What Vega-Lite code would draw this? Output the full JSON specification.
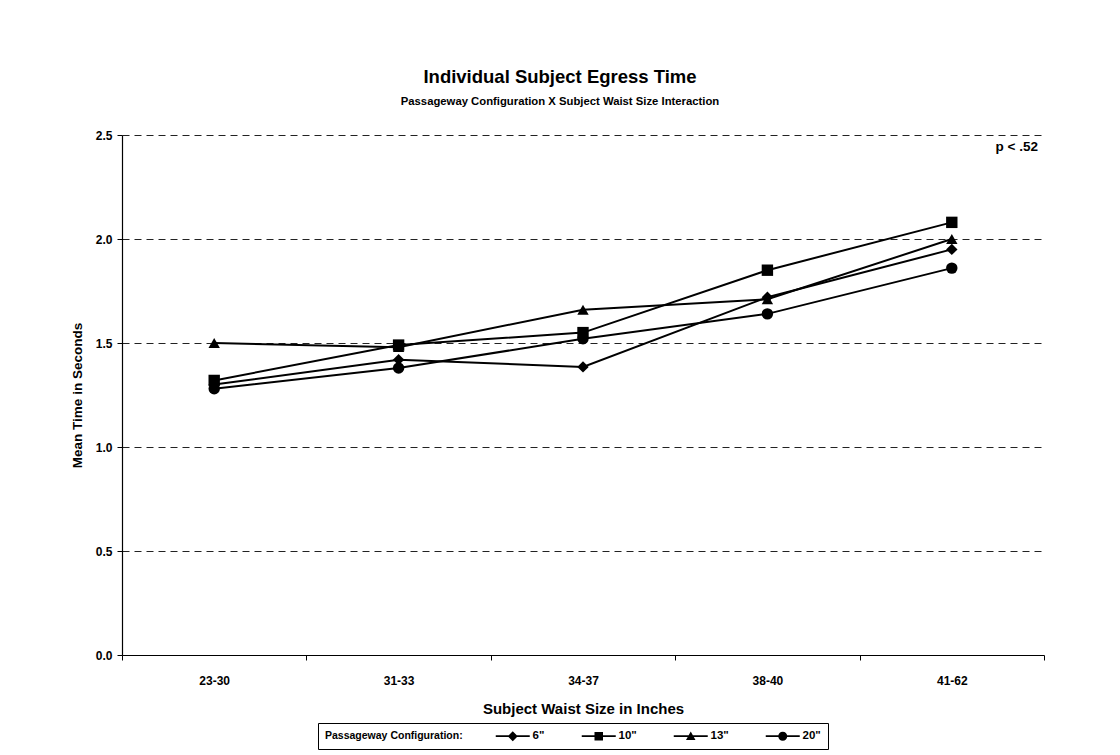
{
  "$schema": "https://vega.github.io/schema/vega-lite/v6.json",
  "autosize": "none",
  "width": 922,
  "height": 520,
  "padding": {"left": 122, "top": 135, "right": 76, "bottom": 100},
  "background": "white",
  "config": {
    "font": "Liberation Sans",
    "view": {"stroke": null},
    "axis": {"labelFont": "Liberation Sans", "titleFont": "Liberation Sans", "labelColor": "black", "titleColor": "black", "domainColor": "black", "tickColor": "black"}
  },
  "title": {
    "text": "Individual Subject Egress Time",
    "subtitle": "Passageway Configuration X Subject Waist Size Interaction",
    "anchor": "middle",
    "frame": "group",
    "dx": -23,
    "offset": 22,
    "font": "Liberation Sans",
    "fontSize": 18.5,
    "fontWeight": "bold",
    "color": "black",
    "subtitleFont": "Liberation Sans",
    "subtitleFontSize": 11.3,
    "subtitleFontWeight": "bold",
    "subtitleColor": "black",
    "subtitlePadding": 9
  },
  "data": {
    "values": [
      {"waist": "23-30", "config": "6\"", "time": 1.30},
      {"waist": "31-33", "config": "6\"", "time": 1.42},
      {"waist": "34-37", "config": "6\"", "time": 1.385},
      {"waist": "38-40", "config": "6\"", "time": 1.72},
      {"waist": "41-62", "config": "6\"", "time": 1.95},
      {"waist": "23-30", "config": "10\"", "time": 1.32},
      {"waist": "31-33", "config": "10\"", "time": 1.49},
      {"waist": "34-37", "config": "10\"", "time": 1.55},
      {"waist": "38-40", "config": "10\"", "time": 1.85},
      {"waist": "41-62", "config": "10\"", "time": 2.08},
      {"waist": "23-30", "config": "13\"", "time": 1.50},
      {"waist": "31-33", "config": "13\"", "time": 1.48},
      {"waist": "34-37", "config": "13\"", "time": 1.66},
      {"waist": "38-40", "config": "13\"", "time": 1.71},
      {"waist": "41-62", "config": "13\"", "time": 2.00},
      {"waist": "23-30", "config": "20\"", "time": 1.28},
      {"waist": "31-33", "config": "20\"", "time": 1.38},
      {"waist": "34-37", "config": "20\"", "time": 1.52},
      {"waist": "38-40", "config": "20\"", "time": 1.64},
      {"waist": "41-62", "config": "20\"", "time": 1.86}
    ]
  },
  "encoding": {
    "x": {
      "field": "waist",
      "type": "nominal",
      "sort": ["23-30", "31-33", "34-37", "38-40", "41-62"],
      "scale": {"type": "band", "paddingInner": 0, "paddingOuter": 0},
      "axis": {
        "title": "Subject Waist Size in Inches",
        "titleFontSize": 15,
        "titleFontWeight": "bold",
        "titlePadding": 15,
        "labelAngle": 0,
        "labelFontSize": 12,
        "labelFontWeight": "bold",
        "labelPadding": 15,
        "tickBand": "extent",
        "tickSize": 5,
        "domainWidth": 1.2,
        "grid": false
      }
    },
    "y": {
      "field": "time",
      "type": "quantitative",
      "scale": {"domain": [0, 2.5], "nice": false},
      "axis": {
        "title": "Mean Time in Seconds",
        "titleFontSize": 13.5,
        "titleFontWeight": "bold",
        "titlePadding": 11,
        "values": [0, 0.5, 1, 1.5, 2, 2.5],
        "format": ".1f",
        "labelFontSize": 12,
        "labelFontWeight": "bold",
        "labelPadding": 5,
        "tickSize": 5,
        "domainWidth": 1.2,
        "grid": true,
        "gridColor": "#222222",
        "gridDash": [7, 5],
        "gridWidth": 1
      }
    }
  },
  "layer": [
    {
      "mark": {"type": "line", "color": "black", "strokeWidth": 2},
      "encoding": {"detail": {"field": "config", "type": "nominal"}}
    },
    {
      "mark": {"type": "point", "filled": true, "color": "black", "opacity": 1, "size": 130},
      "encoding": {
        "shape": {
          "field": "config",
          "type": "nominal",
          "scale": {"domain": ["6\"", "10\"", "13\"", "20\""], "range": ["diamond", "square", "triangle-up", "circle"]},
          "legend": null
        }
      }
    },
    {
      "mark": {"type": "point", "filled": true, "color": "black", "opacity": 0, "size": 100},
      "encoding": {
        "shape": {
          "field": "config",
          "type": "nominal",
          "scale": {
            "domain": ["6\"", "10\"", "13\"", "20\""],
            "range": [
              "M-3.4,-0.16L3.4,-0.16L3.4,0.16L-3.4,0.16ZM0,-1L1,0L0,1L-1,0Z",
              "M-3.4,-0.16L3.4,-0.16L3.4,0.16L-3.4,0.16ZM-0.85,-0.85L0.85,-0.85L0.85,0.85L-0.85,0.85Z",
              "M-3.4,-0.16L3.4,-0.16L3.4,0.16L-3.4,0.16ZM0,-0.95L0.95,0.75L-0.95,0.75Z",
              "M-3.4,-0.16L3.4,-0.16L3.4,0.16L-3.4,0.16ZM-0.9,0A0.9,0.9,0,1,1,0.9,0A0.9,0.9,0,1,1,-0.9,0Z"
            ]
          },
          "legend": {
            "orient": "none",
            "legendX": 196,
            "legendY": 588,
            "direction": "horizontal",
            "title": "Passageway Configuration:",
            "titleOrient": "left",
            "titleFont": "Liberation Sans",
            "titleFontSize": 10.5,
            "titleFontWeight": "bold",
            "titleColor": "black",
            "titlePadding": 30,
            "titleBaseline": "middle",
            "labelFont": "Liberation Sans",
            "labelFontSize": 11.5,
            "labelFontWeight": "bold",
            "labelColor": "black",
            "labelOffset": 14,
            "symbolOffset": 14,
            "symbolSize": 100,
            "symbolOpacity": 1,
            "symbolFillColor": "black",
            "symbolStrokeColor": "black",
            "symbolStrokeWidth": 0,
            "columnPadding": 34,
            "strokeColor": "black",
            "padding": 7,
            "fillColor": "white",
            "encode": {
              "symbols": {
                "update": {
                  "fill": {"value": "black"},
                  "opacity": {"value": 1},
                  "fillOpacity": {"value": 1}
                }
              }
            }
          }
        }
      }
    },
    {
      "data": {"values": [{"label": "p < .52", "waist": "41-62", "time": 2.44}]},
      "mark": {"type": "text", "align": "right", "baseline": "middle", "dx": -6, "fontSize": 13.5, "fontWeight": "bold", "font": "Liberation Sans", "color": "black"},
      "encoding": {
        "x": {"field": "waist", "type": "nominal", "bandPosition": 1},
        "text": {"field": "label"}
      }
    }
  ],
  "resolve": {"scale": {"shape": "independent"}, "legend": {"shape": "independent"}}
}
